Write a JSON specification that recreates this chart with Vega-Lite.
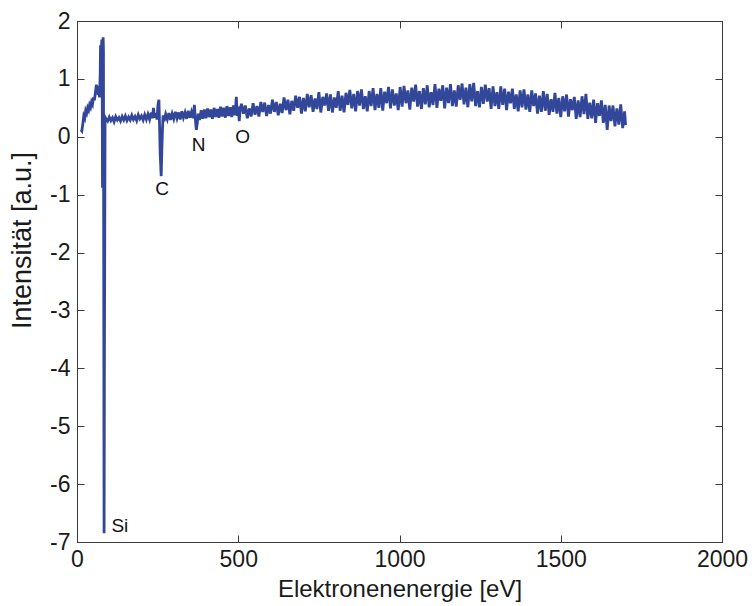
{
"$schema": "https://vega.github.io/schema/vega-lite/v6.json",
"width": 645, "height": 521,
"autosize": {"type": "none"},
"padding": {"left": 77, "top": 21, "right": 33, "bottom": 64},
"background": "white",
"config": {
  "view": {"stroke": "#3a3a3a", "strokeWidth": 1},
  "axis": {"grid": false, "domainColor": "#3a3a3a", "tickColor": "#3a3a3a", "tickSize": -7, "tickWidth": 1, "labelFont": "Liberation Sans", "labelFontSize": 23, "labelColor": "#1a1a1a", "titleFont": "Liberation Sans", "titleFontWeight": "normal", "titleColor": "#1a1a1a", "labelFlush": false, "labelOverlap": false}
},
"datasets": {
"spec": [
{"e":12,"v":0.12},{"e":15,"v":0.1},{"e":18,"v":0.22},{"e":21,"v":0.36},{"e":24,"v":0.32},{"e":27,"v":0.45},{"e":30,"v":0.41},{"e":33,"v":0.5},{"e":36,"v":0.46},{"e":39,"v":0.55},{"e":42,"v":0.51},{"e":45,"v":0.6},{"e":48,"v":0.56},{"e":51,"v":0.68},{"e":54,"v":0.63},{"e":57,"v":0.76},{"e":60,"v":0.9},{"e":62,"v":0.8},{"e":64,"v":0.88},{"e":66,"v":0.72},{"e":68,"v":0.83},{"e":70,"v":0.68},{"e":72,"v":1.1},{"e":73,"v":1.58},{"e":75,"v":1.42},{"e":77,"v":1.68},{"e":78,"v":1.6},{"e":79,"v":-0.88},{"e":80,"v":-0.5},{"e":81,"v":1.72},{"e":82,"v":1.5},{"e":84,"v":-6.85},{"e":85,"v":-3.9},{"e":87,"v":0.3},{"e":88,"v":0.33},
{"e":90,"v":0.31},{"e":95,"v":0.27},{"e":100,"v":0.34},{"e":105,"v":0.28},{"e":110,"v":0.33},{"e":115,"v":0.26},{"e":120,"v":0.35},{"e":125,"v":0.29},{"e":130,"v":0.33},{"e":135,"v":0.27},{"e":140,"v":0.35},{"e":145,"v":0.29},{"e":150,"v":0.36},{"e":155,"v":0.28},{"e":160,"v":0.34},{"e":165,"v":0.29},{"e":170,"v":0.37},{"e":175,"v":0.3},{"e":180,"v":0.35},{"e":185,"v":0.28},{"e":190,"v":0.38},{"e":195,"v":0.31},{"e":200,"v":0.36},{"e":205,"v":0.29},{"e":210,"v":0.38},{"e":215,"v":0.3},{"e":220,"v":0.39},{"e":225,"v":0.3},{"e":230,"v":0.42},{"e":234,"v":0.32},{"e":237,"v":0.5},{"e":240,"v":0.33},{"e":244,"v":0.41},{"e":248,"v":0.3},{"e":251,"v":0.55},{"e":254,"v":0.64},{"e":256,"v":0.2},{"e":258,"v":-0.3},{"e":261,"v":-0.68},{"e":263,"v":-0.25},{"e":265,"v":0.12},{"e":267,"v":0.37},{"e":270,"v":0.27},{"e":275,"v":0.39},{"e":280,"v":0.3},{"e":285,"v":0.41},{"e":290,"v":0.29},{"e":295,"v":0.4},{"e":300,"v":0.31},{"e":305,"v":0.43},{"e":310,"v":0.32},{"e":315,"v":0.42},{"e":320,"v":0.3},{"e":325,"v":0.44},{"e":330,"v":0.33},{"e":335,"v":0.42},{"e":340,"v":0.31},{"e":345,"v":0.45},{"e":350,"v":0.33},{"e":355,"v":0.43},{"e":360,"v":0.32},{"e":364,"v":0.55},{"e":367,"v":0.3},{"e":370,"v":0.12},{"e":373,"v":0.24},{"e":376,"v":0.4},{"e":380,"v":0.29},{"e":385,"v":0.46},{"e":390,"v":0.31},{"e":395,"v":0.47},{"e":400,"v":0.32},{"e":405,"v":0.49},{"e":410,"v":0.34},{"e":415,"v":0.47},{"e":420,"v":0.31},{"e":425,"v":0.5},{"e":430,"v":0.34},{"e":435,"v":0.48},{"e":440,"v":0.33},{"e":445,"v":0.52},{"e":450,"v":0.35},{"e":455,"v":0.5},{"e":460,"v":0.33},{"e":465,"v":0.53},{"e":470,"v":0.36},{"e":475,"v":0.51},{"e":480,"v":0.34},{"e":485,"v":0.54},{"e":490,"v":0.37},{"e":494,"v":0.69},{"e":497,"v":0.36},{"e":500,"v":0.52},{"e":503,"v":0.27},{"e":506,"v":0.48},
{"e":510,"v":0.57},{"e":516,"v":0.4},{"e":522,"v":0.54},{"e":528,"v":0.32},{"e":534,"v":0.49},{"e":540,"v":0.35},{"e":546,"v":0.58},{"e":552,"v":0.38},{"e":558,"v":0.53},{"e":564,"v":0.35},{"e":570,"v":0.6},{"e":576,"v":0.43},{"e":582,"v":0.59},{"e":588,"v":0.36},{"e":594,"v":0.55},
{"e":600,"v":0.4},{"e":606,"v":0.64},{"e":612,"v":0.43},{"e":618,"v":0.6},{"e":624,"v":0.37},{"e":630,"v":0.57},{"e":636,"v":0.41},{"e":642,"v":0.68},{"e":648,"v":0.46},{"e":654,"v":0.64},{"e":660,"v":0.39},{"e":666,"v":0.62},{"e":672,"v":0.45},{"e":678,"v":0.71},{"e":684,"v":0.5},{"e":690,"v":0.69},{"e":696,"v":0.4},
{"e":702,"v":0.67},{"e":708,"v":0.44},{"e":714,"v":0.74},{"e":720,"v":0.51},{"e":726,"v":0.72},{"e":732,"v":0.43},{"e":738,"v":0.66},{"e":744,"v":0.48},{"e":750,"v":0.77},{"e":756,"v":0.42},{"e":762,"v":0.69},{"e":768,"v":0.54},{"e":774,"v":0.75},{"e":780,"v":0.45},{"e":786,"v":0.73},{"e":792,"v":0.42},{"e":798,"v":0.68},
{"e":804,"v":0.5},{"e":810,"v":0.79},{"e":816,"v":0.45},{"e":822,"v":0.71},{"e":828,"v":0.42},{"e":834,"v":0.76},{"e":840,"v":0.55},{"e":846,"v":0.81},{"e":852,"v":0.49},{"e":858,"v":0.74},{"e":864,"v":0.44},{"e":870,"v":0.79},{"e":876,"v":0.54},{"e":882,"v":0.82},{"e":888,"v":0.48},{"e":894,"v":0.7},
{"e":900,"v":0.44},{"e":906,"v":0.79},{"e":912,"v":0.53},{"e":918,"v":0.84},{"e":924,"v":0.46},{"e":930,"v":0.74},{"e":936,"v":0.5},{"e":942,"v":0.84},{"e":948,"v":0.45},{"e":954,"v":0.78},{"e":960,"v":0.58},{"e":966,"v":0.86},{"e":972,"v":0.49},{"e":978,"v":0.82},{"e":984,"v":0.54},{"e":990,"v":0.75},{"e":996,"v":0.46},
{"e":1002,"v":0.86},{"e":1008,"v":0.52},{"e":1014,"v":0.88},{"e":1020,"v":0.58},{"e":1026,"v":0.8},{"e":1032,"v":0.47},{"e":1038,"v":0.85},{"e":1044,"v":0.61},{"e":1050,"v":0.9},{"e":1056,"v":0.52},{"e":1062,"v":0.79},{"e":1068,"v":0.48},{"e":1074,"v":0.84},{"e":1080,"v":0.56},{"e":1086,"v":0.89},{"e":1092,"v":0.51},{"e":1098,"v":0.77},
{"e":1104,"v":0.55},{"e":1110,"v":0.91},{"e":1116,"v":0.5},{"e":1122,"v":0.83},{"e":1128,"v":0.62},{"e":1134,"v":0.89},{"e":1140,"v":0.49},{"e":1146,"v":0.85},{"e":1152,"v":0.58},{"e":1158,"v":0.91},{"e":1164,"v":0.53},{"e":1170,"v":0.8},{"e":1176,"v":0.52},{"e":1182,"v":0.89},{"e":1188,"v":0.64},{"e":1194,"v":0.92},
{"e":1200,"v":0.56},{"e":1206,"v":0.85},{"e":1212,"v":0.51},{"e":1218,"v":0.91},{"e":1224,"v":0.61},{"e":1230,"v":0.93},{"e":1236,"v":0.53},{"e":1242,"v":0.79},{"e":1248,"v":0.51},{"e":1254,"v":0.86},{"e":1260,"v":0.57},{"e":1266,"v":0.9},{"e":1272,"v":0.61},{"e":1278,"v":0.84},{"e":1284,"v":0.48},{"e":1290,"v":0.87},{"e":1296,"v":0.53},
{"e":1302,"v":0.77},{"e":1308,"v":0.48},{"e":1314,"v":0.87},{"e":1320,"v":0.55},{"e":1326,"v":0.83},{"e":1332,"v":0.46},{"e":1338,"v":0.78},{"e":1344,"v":0.58},{"e":1350,"v":0.83},{"e":1356,"v":0.48},{"e":1362,"v":0.73},{"e":1368,"v":0.44},{"e":1374,"v":0.8},{"e":1380,"v":0.51},{"e":1386,"v":0.82},{"e":1392,"v":0.47},{"e":1398,"v":0.73},
{"e":1404,"v":0.43},{"e":1410,"v":0.8},{"e":1416,"v":0.53},{"e":1422,"v":0.75},{"e":1428,"v":0.4},{"e":1434,"v":0.71},{"e":1440,"v":0.43},{"e":1446,"v":0.79},{"e":1452,"v":0.45},{"e":1458,"v":0.74},{"e":1464,"v":0.38},{"e":1470,"v":0.65},{"e":1476,"v":0.43},{"e":1482,"v":0.76},{"e":1488,"v":0.4},{"e":1494,"v":0.67},
{"e":1500,"v":0.34},{"e":1506,"v":0.7},{"e":1512,"v":0.44},{"e":1518,"v":0.73},{"e":1524,"v":0.35},{"e":1530,"v":0.65},{"e":1536,"v":0.46},{"e":1542,"v":0.69},{"e":1548,"v":0.31},{"e":1554,"v":0.63},{"e":1560,"v":0.34},{"e":1566,"v":0.7},{"e":1572,"v":0.39},{"e":1578,"v":0.74},{"e":1584,"v":0.31},{"e":1590,"v":0.59},{"e":1596,"v":0.32},
{"e":1602,"v":0.64},{"e":1608,"v":0.24},{"e":1614,"v":0.58},{"e":1620,"v":0.36},{"e":1626,"v":0.63},{"e":1632,"v":0.24},{"e":1638,"v":0.55},{"e":1644,"v":0.12},{"e":1650,"v":0.54},{"e":1656,"v":0.27},{"e":1662,"v":0.54},{"e":1668,"v":0.18},{"e":1674,"v":0.49},{"e":1680,"v":0.21},{"e":1686,"v":0.56},{"e":1692,"v":0.15},{"e":1698,"v":0.44},{"e":1701,"v":0.2}
],
"labels": [
{"e":133,"v":-6.72,"t":"Si"},{"e":264,"v":-0.91,"t":"C"},{"e":377,"v":-0.14,"t":"N"},{"e":514,"v":0.0,"t":"O"}
]
},
"layer": [
{
  "data": {"name": "spec"},
  "mark": {"type": "line", "color": "#33479a", "strokeWidth": 2.8, "clip": true},
  "encoding": {
    "x": {"field": "e", "type": "quantitative", "scale": {"domain": [0, 2000], "nice": false, "zero": false},
      "axis": {"orient": "bottom", "values": [0, 500, 1000, 1500, 2000], "labelExpr": "'' + datum.value", "title": "Elektronenenergie [eV]", "titleFontSize": 24, "titleY": 47, "titleBaseline": "middle", "labelPadding": 13}},
    "y": {"field": "v", "type": "quantitative", "scale": {"domain": [-7, 2], "nice": false, "zero": false},
      "axis": {"orient": "left", "values": [-7, -6, -5, -4, -3, -2, -1, 0, 1, 2], "labelExpr": "'' + datum.value", "title": "Intensität [a.u.]", "titleFontSize": 27, "titleX": -55, "titleY": 219, "titleAngle": -90, "titleAlign": "center", "titleBaseline": "middle", "labelPadding": 14}}
  }
},
{
  "data": {"name": "labels"},
  "mark": {"type": "text", "font": "Liberation Sans", "fontSize": 19, "color": "#111111", "align": "center", "baseline": "middle"},
  "encoding": {
    "x": {"field": "e", "type": "quantitative", "axis": {"orient": "top", "values": [0, 500, 1000, 1500, 2000], "labels": false, "title": null}},
    "y": {"field": "v", "type": "quantitative", "axis": {"orient": "right", "values": [-7, -6, -5, -4, -3, -2, -1, 0, 1, 2], "labels": false, "title": null}},
    "text": {"field": "t"}
  }
}
],
"resolve": {"axis": {"x": "independent", "y": "independent"}}
}
